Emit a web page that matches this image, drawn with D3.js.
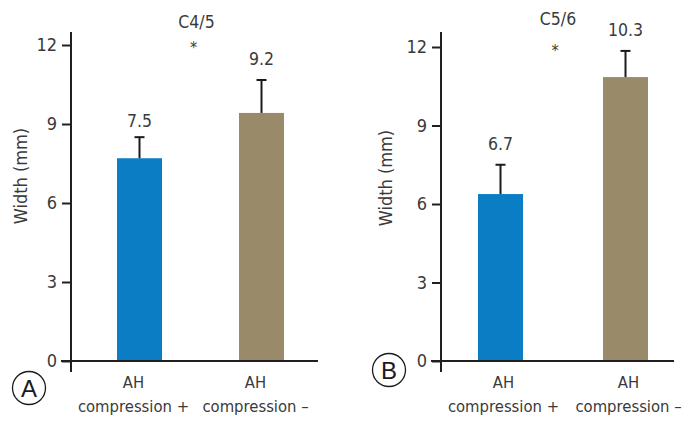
<!DOCTYPE html>
<html>
<head>
<meta charset="utf-8">
<script src="https://cdn.jsdelivr.net/npm/d3@7"></script>
<style>
  body { margin: 0; background: #fff; }
  svg { display: block; }
  text { font-family: "DejaVu Sans Condensed", "DejaVu Sans", sans-serif; fill: #3a3a3a; }
</style>
</head>
<body>
<div id="chart"></div>
<script>
// data
const categories = ['AH compression +', 'AH compression \u2013'];
const panelLetters = ['A', 'B'];
const levelTitles = ['C4/5', 'C5/6'];
const meansA = [7.7, 9.42];
const errorsA = [0.8, 1.25];
const labelsA = ['7.5', '9.2'];
const meansB = [6.38, 10.85];
const errorsB = [1.12, 1.0];
const labelsB = ['6.7', '10.3'];
const yTicks = [0, 3, 6, 9, 12];
const barColors = ['#0a7dc4', '#998a6a'];

const width = 684, height = 422;
const axisColor = '#231f20';
const fontFamily = '"DejaVu Sans Condensed", "DejaVu Sans", sans-serif';

const svg = d3.select('#chart').append('svg')
    .attr('width', width)
    .attr('height', height);

// per-panel placement
const panels = [
    { means: meansA, errors: errorsA, labels: labelsA, axisX: 71, centers: [139.5, 261.5], xEnd: 318, yTop: 45, labelDx: -6, letterPos: [29, 388], titleY: 28, starY: 53, titleDx: -4, yTitle: [27, 176] },
    { means: meansB, errors: errorsB, labels: labelsB, axisX: 441, centers: [500.5, 625.5], xEnd: 674, yTop: 47, labelDx: 3, letterPos: [389, 370], titleY: 25, starY: 56, titleDx: -5, yTitle: [392, 178] }
];

const barWidth = 45;
const y0 = 361;

panels.forEach((p, i) => {
    const g = svg.append('g');

    const x = d3.scalePoint()
        .domain(categories)
        .range(p.centers);

    const y = d3.scaleLinear()
        .domain([0, 12])
        .range([y0, p.yTop]);

    // bars
    g.selectAll('rect.bar')
        .data(categories)
        .enter()
        .append('rect')
        .attr('x', d => x(d) - barWidth / 2)
        .attr('y', (d, j) => y(p.means[j]))
        .attr('width', barWidth)
        .attr('height', (d, j) => y0 - y(p.means[j]))
        .attr('fill', (d, j) => barColors[j]);

    // error bars (upper only) + value labels
    categories.forEach((c, j) => {
        const top = y(p.means[j] + p.errors[j]);
        g.append('line')
            .attr('x1', x(c)).attr('x2', x(c))
            .attr('y1', y(p.means[j])).attr('y2', top)
            .attr('stroke', '#1a1a1a').attr('stroke-width', 2);
        g.append('line')
            .attr('x1', x(c) - 5).attr('x2', x(c) + 5)
            .attr('y1', top).attr('y2', top)
            .attr('stroke', '#1a1a1a').attr('stroke-width', 2);
        g.append('text')
            .attr('x', x(c))
            .attr('y', top - (j === 0 && i === 0 ? 10 : 15))
            .attr('text-anchor', 'middle')
            .attr('font-size', 17.5)
            .text(p.labels[j]);
    });

    // y axis
    const yAxis = g.append('g')
        .attr('transform', `translate(${p.axisX},0)`)
        .call(d3.axisLeft(y).tickValues(yTicks).tickSize(9).tickPadding(5));
    yAxis.select('.domain').remove();
    yAxis.selectAll('.tick line').attr('stroke', axisColor).attr('stroke-width', 2);
    yAxis.selectAll('.tick text')
        .attr('font-size', 18)
        .attr('fill', '#3a3a3a')
        .attr('font-family', fontFamily);
    g.append('line')
        .attr('x1', p.axisX).attr('x2', p.axisX)
        .attr('y1', 32).attr('y2', 372)
        .attr('stroke', axisColor).attr('stroke-width', 2);

    // x baseline
    g.append('line')
        .attr('x1', p.axisX - 10).attr('x2', p.xEnd)
        .attr('y1', y0).attr('y2', y0)
        .attr('stroke', axisColor).attr('stroke-width', 2);

    // category labels, two lines
    categories.forEach(c => {
        const t = g.append('text')
            .attr('text-anchor', 'middle')
            .attr('font-size', 16.5);
        const parts = c.split(' ');
        t.append('tspan').attr('x', x(c) + p.labelDx).attr('y', 388).text(parts[0]);
        t.append('tspan').attr('x', x(c) + p.labelDx).attr('y', 412).text(parts.slice(1).join(' '));
    });

    // y title
    g.append('text')
        .attr('transform', `translate(${p.yTitle[0]},${p.yTitle[1]}) rotate(-90)`)
        .attr('text-anchor', 'middle')
        .attr('font-size', 18)
        .text('Width (mm)');

    // level title and significance star
    const mid = (p.centers[0] + p.centers[1]) / 2 + p.titleDx;
    g.append('text')
        .attr('x', mid).attr('y', p.titleY)
        .attr('text-anchor', 'middle')
        .attr('font-size', 17.5)
        .text(levelTitles[i]);
    g.append('text')
        .attr('x', mid - 3).attr('y', p.starY)
        .attr('text-anchor', 'middle')
        .attr('font-size', 16)
        .text('*');

    // circled panel letter
    g.append('circle')
        .attr('cx', p.letterPos[0]).attr('cy', p.letterPos[1])
        .attr('r', 16.5)
        .attr('fill', 'none')
        .attr('stroke', '#1a1a1a')
        .attr('stroke-width', 1.3);
    g.append('text')
        .attr('x', p.letterPos[0]).attr('y', p.letterPos[1] + 8.5)
        .attr('text-anchor', 'middle')
        .attr('font-size', 24)
        .style('font-family', '"Liberation Sans", Arial, sans-serif')
        .style('fill', '#1a1a1a')
        .text(panelLetters[i]);
});
</script>
</body>
</html>
